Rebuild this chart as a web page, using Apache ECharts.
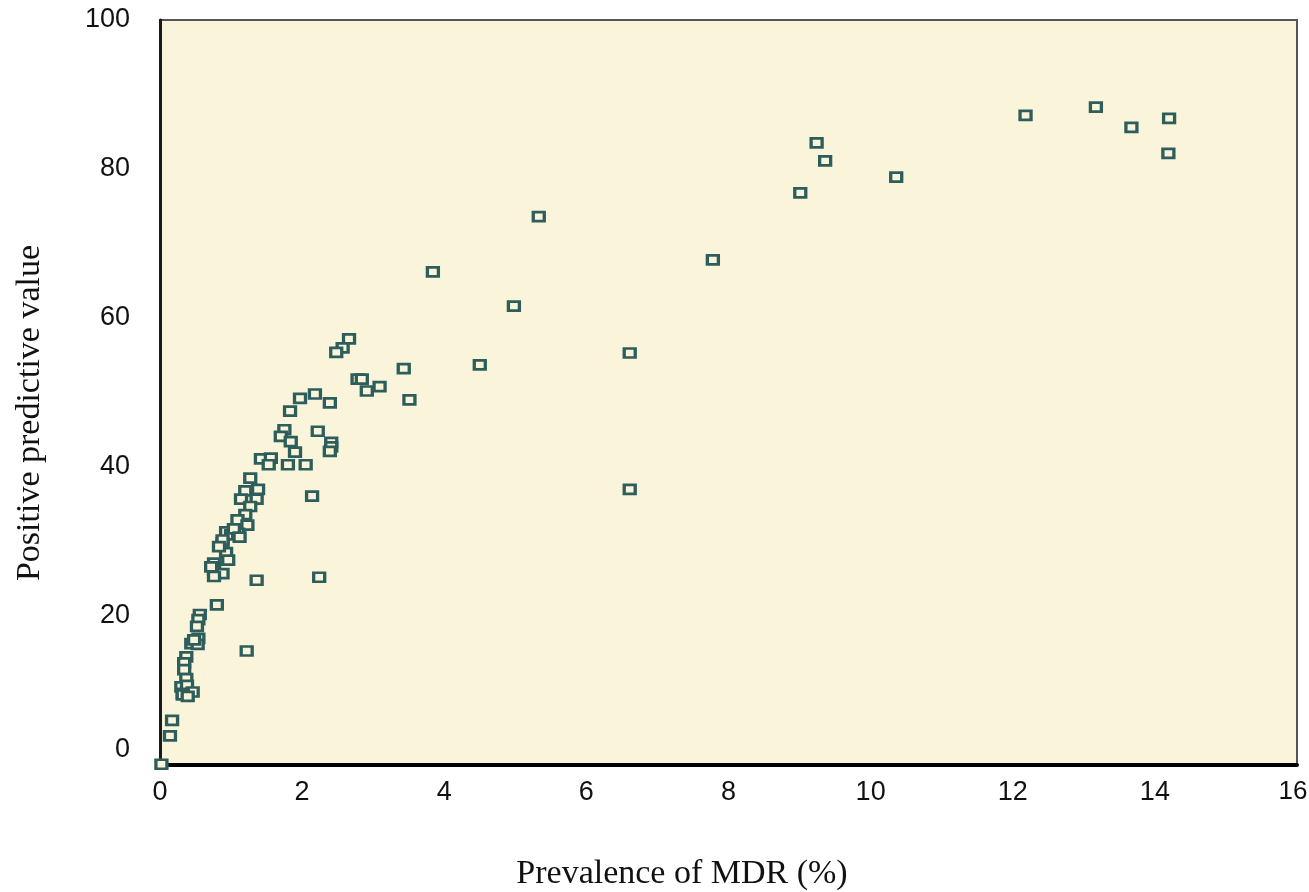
<!DOCTYPE html>
<html>
<head>
<meta charset="utf-8">
<script src="https://cdn.jsdelivr.net/npm/echarts@6/dist/echarts.min.js"></script>
<style>html,body{margin:0;padding:0;background:#fff}#c{width:1309px;height:892px}</style>
</head>
<body>
<div id="c"></div>
<script>
const xTicks = [0, 2, 4, 6, 8, 10, 12, 14, 16];
const yTicks = [0, 20, 40, 60, 80, 100];
const xTitle = 'Prevalence of MDR (%)';
const yTitle = 'Positive predictive value';
const prevalence = [
  12.18, 13.17, 13.67, 14.20, 14.19, 9.24, 9.36, 9.01, 10.36, 7.78,
  5.33, 3.84, 4.98, 6.61, 6.61, 4.50,
  2.66, 2.57, 2.48, 3.43, 2.78, 2.84, 2.91, 3.09, 3.51, 2.18,
  1.97, 1.83, 2.39, 1.75, 1.70, 2.22, 1.84, 1.90, 2.41, 2.41,
  2.39, 1.42, 1.56, 1.53, 1.80, 2.05, 1.27, 1.38, 1.20, 1.14,
  1.36, 2.14, 1.27, 1.20, 1.09, 1.23, 0.93, 1.00, 1.10, 0.88,
  0.93, 0.96, 0.76, 0.76, 0.88, 0.76, 1.36, 2.24, 0.80, 0.56,
  0.54, 0.52, 0.54, 0.44, 0.53, 1.22, 0.37, 0.34, 0.34, 0.37,
  0.30, 0.38, 0.46, 0.32, 0.17, 0.14, 0.02,
  0.88, 1.04, 1.12, 0.83, 0.72, 0.48, 0.32, 0.39
];
const ppv = [
  87.2, 88.3, 85.6, 86.8, 82.1, 83.5, 81.1, 76.8, 78.9, 67.8,
  73.6, 66.2, 61.6, 55.3, 37.0, 53.7,
  57.2, 56.0, 55.4, 53.2, 51.8, 51.8, 50.2, 50.8, 49.0, 49.8,
  49.2, 47.5, 48.6, 45.0, 44.1, 44.8, 43.4, 42.0, 43.3, 42.7,
  42.1, 41.1, 41.2, 40.3, 40.3, 40.3, 38.5, 37.0, 36.8, 35.7,
  35.7, 36.1, 34.7, 33.6, 32.9, 32.2, 31.3, 30.9, 31.1, 29.8,
  28.5, 27.5, 27.1, 26.2, 25.7, 25.3, 24.8, 25.2, 21.5, 20.2,
  19.5, 18.6, 17.0, 16.3, 16.2, 15.3, 14.5, 13.7, 12.8, 11.6,
  10.5, 10.7, 9.8, 9.6, 6.0, 3.9, 0.1,
  30.2, 31.7, 30.6, 29.3, 26.6, 16.8, 9.4, 9.2
];
const points = prevalence.map((x, i) => [x, ppv[i]]);

const chart = echarts.init(document.getElementById('c'), null, {renderer: 'canvas'});
chart.setOption({
  animation: false,
  backgroundColor: '#ffffff',
  grid: {
    left: 160, right: 12, top: 20, bottom: 127,
    containLabel: false, outerBoundsMode: 'none',
    show: true, backgroundColor: '#FAF5DA', borderColor: '#555555', borderWidth: 2
  },
  graphic: [
    {type: 'text', x: 682, y: 874, silent: true,
      style: {text: xTitle, font: '34px "Liberation Serif"', fill: '#111', textAlign: 'center', textVerticalAlign: 'middle'}},
    {type: 'text', x: 30, y: 413, rotation: Math.PI / 2, silent: true,
      style: {text: yTitle, font: '34px "Liberation Serif"', fill: '#111', textAlign: 'center', textVerticalAlign: 'middle'}}
  ],
  xAxis: {
    type: 'value', min: 0, max: 16, interval: 2,
    axisLine: {show: true, lineStyle: {color: '#000', width: 4}},
    axisTick: {show: false},
    splitLine: {show: false},
    axisLabel: {fontFamily: 'Liberation Sans', fontSize: 27, color: '#111', margin: 14,
      formatter: v => xTicks.includes(v) ? (v === 16 ? '{e|16}' : String(v)) : '',
      rich: {e: {fontFamily: 'Liberation Sans', fontSize: 26, color: '#111', padding: [0, 8, 0, 0]}}}
  },
  yAxis: {
    type: 'value', min: 0, max: 100, interval: 20,
    axisLine: {show: true, lineStyle: {color: '#1a1a1a', width: 3}},
    axisTick: {show: false},
    splitLine: {show: false},
    axisLabel: {fontFamily: 'Liberation Sans', fontSize: 27, color: '#111', margin: 30,
      formatter: v => yTicks.includes(v) ? (v === 0 ? '{z|0}' : String(v)) : '',
      rich: {z: {fontFamily: 'Liberation Sans', fontSize: 27, color: '#111', padding: [0, 0, 30, 0]}}}
  },
  series: [{
    type: 'scatter',
    data: points,
    symbol: 'rect',
    symbolSize: [11, 9],
    itemStyle: {color: '#FAF5DA', borderColor: '#2E5E5C', borderWidth: 3, opacity: 1},
    clip: false
  }]
});
</script>
</body>
</html>
